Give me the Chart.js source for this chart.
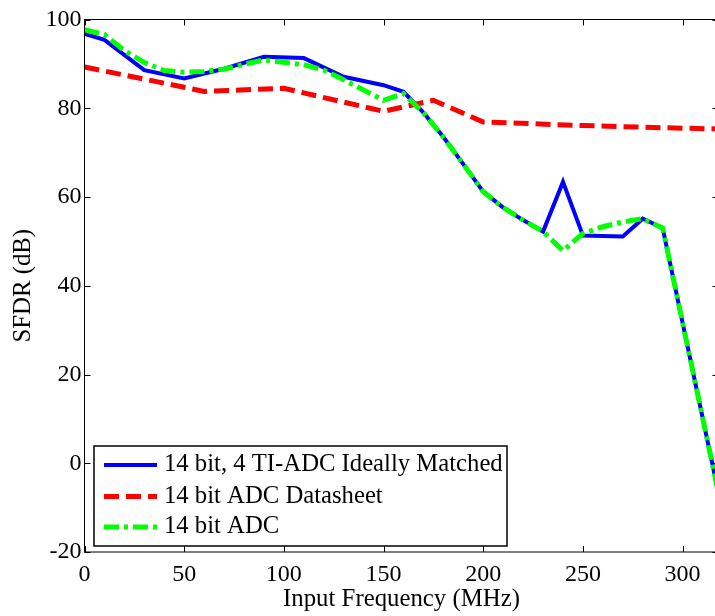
<!DOCTYPE html>
<html>
<head>
<meta charset="utf-8">
<script src="https://cdn.jsdelivr.net/npm/chart.js@4"></script>
<style>
  html, body { margin: 0; padding: 0; background: #fff; overflow: hidden; }
  #wrap { width: 720px; height: 616px; }
</style>
</head>
<body>
<div id="wrap"><canvas id="c" width="720" height="616"></canvas></div>
<script>
// ---- data ----
const seriesLabels = ["14 bit, 4 TI-ADC Ideally Matched", "14 bit ADC Datasheet", "14 bit ADC"];

const freqTI = [0, 10, 30, 50, 70, 90, 110, 130, 150, 160, 170, 180, 190, 200, 210, 220, 230, 240, 250, 270, 280, 290, 320];
const sfdrTI = [96.8, 95.4, 88.6, 86.7, 88.9, 91.6, 91.3, 87.1, 85.2, 83.7, 79.0, 73.5, 67.4, 61.2, 57.6, 54.8, 52.2, 63.4, 51.3, 51.1, 55.1, 53.0, -11.0];

const freqSheet = [0, 60, 100, 150, 175, 200, 250, 300, 320];
const sfdrSheet = [89.3, 83.8, 84.5, 79.3, 81.8, 76.9, 76.1, 75.5, 75.3];

const freqADC = [0, 10, 20, 30, 40, 50, 60, 70, 80, 90, 110, 120, 130, 150, 160, 170, 180, 190, 200, 210, 220, 230, 240, 250, 260, 270, 280, 290, 320];
const sfdrADC = [97.7, 96.6, 93.0, 90.3, 88.5, 88.1, 88.3, 88.8, 89.9, 90.9, 89.8, 88.6, 86.4, 81.8, 83.3, 79.0, 73.5, 67.4, 61.2, 57.6, 54.8, 52.2, 47.9, 51.8, 53.3, 54.4, 55.1, 53.0, -11.0];

const xTickValues = [0, 50, 100, 150, 200, 250, 300];
const yTickValues = [-20, 0, 20, 40, 60, 80, 100];
const xRange = [0, 318];
const yRange = [-20, 100];
const xTitle = "Input Frequency (MHz)";
const yTitle = "SFDR (dB)";

const pts = (xs, ys) => xs.map((x, i) => ({ x: x, y: ys[i] }));

const FONT = "'Liberation Serif', 'Times New Roman', serif";

// box with inward ticks on all four sides
const boxPlugin = {
  id: 'boxTicks',
  afterDatasetsDraw(chart) {
    const { ctx, chartArea: a, scales } = chart;
    ctx.save();
    ctx.strokeStyle = '#000';
    ctx.lineWidth = 1;
    ctx.strokeRect(a.left, a.top, a.right - a.left, a.bottom - a.top);
    const tl = 6;
    ctx.beginPath();
    xTickValues.forEach(v => {
      const px = Math.round(scales.x.getPixelForValue(v)) + 0.5;
      ctx.moveTo(px, a.bottom); ctx.lineTo(px, a.bottom - tl);
      ctx.moveTo(px, a.top); ctx.lineTo(px, a.top + tl);
    });
    yTickValues.forEach(v => {
      const py = Math.round(scales.y.getPixelForValue(v)) + 0.5;
      ctx.moveTo(a.left, py); ctx.lineTo(a.left + tl, py);
      ctx.moveTo(a.right, py); ctx.lineTo(a.right - tl, py);
    });
    ctx.stroke();
    ctx.restore();
  },
  afterDraw(chart) {
    // legend box inside the plot, lower left
    const { ctx, chartArea: a } = chart;
    const left = a.left + 9.5, right = a.left + 422.5;
    const bottom = a.bottom - 6, top = bottom - 100;
    ctx.save();
    ctx.fillStyle = '#fff';
    ctx.fillRect(left, top, right - left, bottom - top);
    ctx.strokeStyle = '#000';
    ctx.lineWidth = 1.5;
    ctx.strokeRect(left, top, right - left, bottom - top);
    const rows = [top + 19, top + 50.5, top + 81];
    chart.data.datasets.forEach((ds, i) => {
      const y = rows[i];
      ctx.beginPath();
      ctx.strokeStyle = ds.borderColor;
      ctx.lineWidth = ds.borderWidth;
      ctx.setLineDash(ds.borderDash || []);
      ctx.moveTo(left + 10, y);
      ctx.lineTo(left + 63, y);
      ctx.stroke();
      ctx.setLineDash([]);
      ctx.fillStyle = '#000';
      ctx.font = '24.7px ' + FONT;
      ctx.textBaseline = 'middle';
      ctx.textAlign = 'left';
      ctx.fillText(ds.label, left + 70, y);
    });
    ctx.restore();
  }
};

new Chart(document.getElementById('c'), {
  type: 'line',
  data: {
    datasets: [
      { label: seriesLabels[0], data: pts(freqTI, sfdrTI), borderColor: '#0000ff', borderWidth: 4, order: 3 },
      { label: seriesLabels[1], data: pts(freqSheet, sfdrSheet), borderColor: '#ff0000', borderWidth: 5, borderDash: [15, 7], order: 2 },
      { label: seriesLabels[2], data: pts(freqADC, sfdrADC), borderColor: '#00ff00', borderWidth: 5, borderDash: [15, 5, 4, 5], order: 1 }
    ]
  },
  options: {
    responsive: false,
    animation: false,
    devicePixelRatio: 1,
    layout: { padding: { top: 19.5, right: 1.5, left: 0, bottom: 0 } },
    elements: { point: { radius: 0 }, line: { tension: 0, fill: false } },
    plugins: { legend: { display: false }, tooltip: { enabled: false } },
    scales: {
      x: {
        type: 'linear',
        min: xRange[0], max: xRange[1],
        afterBuildTicks: s => { s.ticks = xTickValues.map(v => ({ value: v })); },
        afterFit: s => { s.height = 64; },
        grid: { display: false, drawTicks: false },
        border: { display: false },
        ticks: { color: '#000', font: { family: FONT, size: 24 }, padding: 8, maxRotation: 0, autoSkip: false },
        title: { display: true, text: xTitle, color: '#000', font: { family: FONT, size: 24.8 }, padding: { top: 0, bottom: 2 } }
      },
      y: {
        type: 'linear',
        min: yRange[0], max: yRange[1],
        afterBuildTicks: s => { s.ticks = yTickValues.map(v => ({ value: v })); },
        afterFit: s => { s.width = 84.5; },
        grid: { display: false, drawTicks: false },
        border: { display: false },
        ticks: { color: '#000', font: { family: FONT, size: 24 }, padding: 3, autoSkip: false },
        title: { display: true, text: yTitle, color: '#000', font: { family: FONT, size: 24.8 }, padding: { top: 9, bottom: 0 } }
      }
    }
  },
  plugins: [boxPlugin]
});
</script>
</body>
</html>
